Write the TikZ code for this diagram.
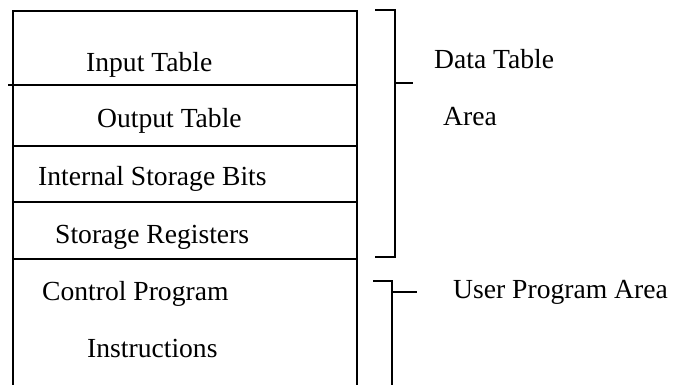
\documentclass[tikz,border=0pt]{standalone}
\usepackage{fontspec}
\setmainfont{Liberation Serif}
\begin{document}
\begin{tikzpicture}[x=1pt,y=-1pt,
  rule/.style={line width=2.2pt, line cap=rect},
  label/.style={font=\fontsize{27.6}{33}\selectfont, inner sep=0pt, anchor=base west}]
\useasboundingbox (0,0) rectangle (677,385);
\clip (0,0) rectangle (677,385);

% memory map column
\coordinate (bl) at (13,400);
\coordinate (tl) at (13,11);
\coordinate (tr) at (357,11);
\coordinate (br) at (357,400);
\draw[rule, line cap=butt] (bl) -- (tl) -- (tr) -- (br);

% row dividers
\foreach \y/\xl in {85/8, 146/13, 202/13, 259/13}
  \draw[rule, line cap=butt] (\xl,\y) -- (357,\y);

% row labels
\node[label] (inp)  at (86,72)  {Input Table};
\node[label] (outp) at (97,128) {Output Table};
\node[label] (bits) at (38,185) {Internal Storage Bits};
\node[label] (regs) at (55,243) {Storage Registers};
\node[label] (ctrl) at (42,300) {Control Program};
\node[label] (inst) at (87,357) {Instructions};

% data table bracket
\coordinate (d1) at (375,10);
\coordinate (d2) at (395,10);
\coordinate (d3) at (395,257);
\coordinate (d4) at (375,257);
\coordinate (dt) at (395,83);
\coordinate (dte) at (413,83);
\draw[rule, line cap=butt] (d1) -- (d2) -- (d3) -- (d4);
\draw[rule, line cap=butt] (dt) -- (dte);
\node[label] (dtab) at (434,69)  {Data Table};
\node[label] (area) at (443,126) {Area};

% user program bracket
\coordinate (u1) at (373,281);
\coordinate (u2) at (392,281);
\coordinate (u3) at (392,400);
\coordinate (ut) at (392,292);
\coordinate (ute) at (417,292);
\draw[rule, line cap=butt] (u1) -- (u2) -- (u3);
\draw[rule, line cap=butt] (ut) -- (ute);
\node[label] (upa) at (453,298) {User Program Area};
\end{tikzpicture}
\end{document}
